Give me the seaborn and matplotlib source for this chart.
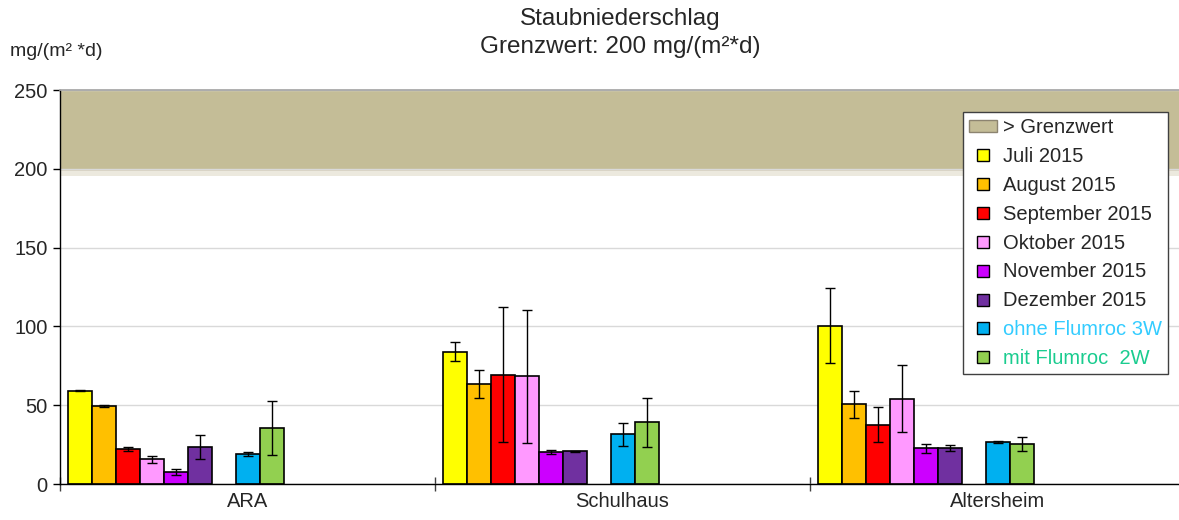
import numpy as np
import pandas as pd
import matplotlib
matplotlib.use("Agg")
import matplotlib.pyplot as plt
from matplotlib.patches import Patch
from matplotlib.lines import Line2D
import seaborn as sns

# Messstandorte
standorte = ["ARA", "Schulhaus", "Altersheim"]

# Monatswerte Staubniederschlag [mg/(m²*d)] je Standort (ARA, Schulhaus, Altersheim)
juli = [59.2, 83.8, 100.3]
august = [49.3, 63.2, 50.6]
september = [22.2, 69.4, 37.6]
oktober = [15.6, 68.3, 54.1]
november = [7.5, 20.1, 22.6]
dezember = [23.5, 20.7, 23.0]
ohne_flumroc = [19.0, 31.5, 26.5]
mit_flumroc = [35.5, 39.1, 25.4]

# Streuung (± Fehlerbalken)
juli_err = [0.5, 6.0, 23.8]
august_err = [0.7, 8.9, 8.5]
september_err = [1.4, 43.0, 11.1]
oktober_err = [2.4, 42.3, 21.1]
november_err = [1.8, 1.2, 3.0]
dezember_err = [7.5, 0.5, 1.8]
ohne_flumroc_err = [1.0, 7.5, 0.5]
mit_flumroc_err = [17.0, 15.7, 4.2]

grenzwert = 200
y_max = 250

serien = {
    "Juli 2015": (juli, juli_err, "#FFFF00"),
    "August 2015": (august, august_err, "#FFC000"),
    "September 2015": (september, september_err, "#FF0000"),
    "Oktober 2015": (oktober, oktober_err, "#FF99FF"),
    "November 2015": (november, november_err, "#CC00FF"),
    "Dezember 2015": (dezember, dezember_err, "#7030A0"),
    "ohne Flumroc 3W": (ohne_flumroc, ohne_flumroc_err, "#00B0F0"),
    "mit Flumroc  2W": (mit_flumroc, mit_flumroc_err, "#92D050"),
}

# Reihenfolge der Balken inkl. leerer Reihen (Platzhalter)
reihen = (["Juli 2015", "August 2015", "September 2015", "Oktober 2015",
           "November 2015", "Dezember 2015", "_leer0",
           "ohne Flumroc 3W", "mit Flumroc  2W"]
          + [f"_leer{i}" for i in range(1, 7)])

rows = []
for r in reihen:
    werte = serien[r][0] if r in serien else [0, 0, 0]
    for s, v in zip(standorte, werte):
        rows.append({"Standort": s, "Serie": r, "Wert": v})
df = pd.DataFrame(rows)

palette = {r: (serien[r][2] if r in serien else "white") for r in reihen}

sns.set_theme(style="white")
plt.rcParams["font.family"] = ["Liberation Sans", "DejaVu Sans"]

fig = plt.figure(figsize=(11.79, 5.2), dpi=100)
ax = fig.add_axes([60 / 1179, 1 - 484 / 520, 1125 / 1179, 394 / 520])

# Bereich oberhalb des Grenzwerts
ax.axhspan(grenzwert - 4.5, grenzwert, color="#ECE9DE", lw=0, zorder=0)
ax.axhspan(grenzwert - 1.5, grenzwert, color="#D9D4C2", lw=0, zorder=0)
ax.axhspan(grenzwert, y_max, color="#C4BD97", lw=0, zorder=0)

sns.barplot(data=df, x="Standort", y="Wert", hue="Serie", order=standorte,
            hue_order=reihen, palette=palette, width=0.96, gap=0,
            errorbar=None, saturation=1, edgecolor="black", linewidth=1.2,
            legend=False, ax=ax)

for r, cont in zip(reihen, ax.containers):
    if r not in serien:
        for bar in cont:
            bar.set_edgecolor("#9A9A9A")
            bar.set_linewidth(0.8)
        continue
    errs = serien[r][1]
    for bar, e in zip(cont, errs):
        xc = bar.get_x() + bar.get_width() / 2
        ax.errorbar(xc, bar.get_height(), yerr=e, fmt="none", ecolor="black",
                    elinewidth=1, capsize=3.5, capthick=1, zorder=4)

ax.set_xlim(-0.5, 2.5)
ax.set_ylim(0, y_max)
ax.set_yticks(np.arange(0, y_max + 1, 50))
ax.yaxis.grid(True, color="#D9D9D9", lw=1)
ax.set_axisbelow(True)
ax.set_xlabel("")
ax.set_ylabel("")

ax.tick_params(axis="y", which="major", direction="out", length=5, width=1,
               color="black", labelsize=14.5, pad=4, left=True)
ax.tick_params(axis="x", which="major", length=0, labelsize=14.5, pad=6)
ax.set_xticks([-0.5, 0.5, 1.5], minor=True)
ax.tick_params(axis="x", which="minor", direction="inout", length=10,
               width=1, color="#404040", bottom=True)

for side in ["left", "bottom"]:
    ax.spines[side].set_color("black")
    ax.spines[side].set_linewidth(1)
ax.spines["top"].set_color("#A6A6A6")
ax.spines["right"].set_visible(False)

# Legende
handles = [Patch(facecolor="#C4BD97", edgecolor="#8C8470", lw=1, label="> Grenzwert")]
for name, (_, _, col) in serien.items():
    handles.append(Line2D([], [], ls="none", marker="s", markersize=8.5,
                          markerfacecolor=col, markeredgecolor="black",
                          markeredgewidth=1, label=name))
leg = ax.legend(handles=handles, loc="upper right",
                bbox_to_anchor=(1168 / 1179, 1 - 112 / 520),
                bbox_transform=fig.transFigure, fontsize=14.5,
                frameon=True, fancybox=False, framealpha=1, edgecolor="#404040",
                handlelength=1.4, handleheight=0.6, handletextpad=0.3,
                labelspacing=0.49, borderpad=0.3, borderaxespad=0)
leg.get_frame().set_linewidth(1)
for t in leg.get_texts():
    if t.get_text() == "ohne Flumroc 3W":
        t.set_color("#33CCFF")
    elif t.get_text() == "mit Flumroc  2W":
        t.set_color("#1ACC8F")

fig.text(620 / 1179, 1 - 33 / 520, "Staubniederschlag\nGrenzwert: 200 mg/(m²*d)",
         ha="center", va="center", fontsize=17.5, linespacing=1.3)
fig.text(10 / 1179, 1 - 51 / 520, "mg/(m² *d)", ha="left", va="center",
         fontsize=14)

fig.savefig("out.png", dpi=100)
